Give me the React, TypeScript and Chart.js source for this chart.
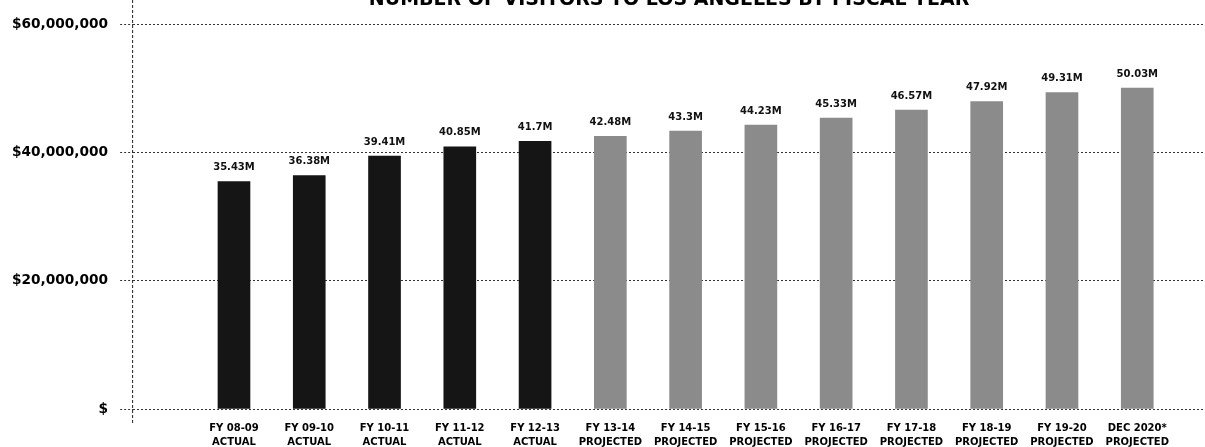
import React, { useEffect, useRef } from "react";
import { Chart, registerables } from "chart.js";

Chart.register(...registerables);

const TITLE = "NUMBER OF VISITORS TO LOS ANGELES BY FISCAL YEAR";

const periods = [
  "FY 08-09",
  "FY 09-10",
  "FY 10-11",
  "FY 11-12",
  "FY 12-13",
  "FY 13-14",
  "FY 14-15",
  "FY 15-16",
  "FY 16-17",
  "FY 17-18",
  "FY 18-19",
  "FY 19-20",
  "DEC 2020*",
];

const statuses = [
  "ACTUAL",
  "ACTUAL",
  "ACTUAL",
  "ACTUAL",
  "ACTUAL",
  "PROJECTED",
  "PROJECTED",
  "PROJECTED",
  "PROJECTED",
  "PROJECTED",
  "PROJECTED",
  "PROJECTED",
  "PROJECTED",
];

const visitorsMillions = [
  35.43, 36.38, 39.41, 40.85, 41.7, 42.48, 43.3, 44.23, 45.33, 46.57, 47.92,
  49.31, 50.03,
];

const yTickValues = [0, 20000000, 40000000, 60000000];

const FONT = "'DejaVu Sans', sans-serif";

export default function App() {
  const canvasRef = useRef<HTMLCanvasElement | null>(null);

  useEffect(() => {
    const canvas = canvasRef.current;
    if (!canvas) return;

    const decorPlugin = {
      id: "decor",
      afterDatasetsDraw(chart: any) {
        const ctx = chart.ctx;
        const meta = chart.getDatasetMeta(0);
        ctx.save();
        ctx.fillStyle = "#111";
        ctx.font = `bold 10px ${FONT}`;
        ctx.textAlign = "center";
        ctx.textBaseline = "middle";
        meta.data.forEach((bar: any, i: number) => {
          ctx.fillText(String(visitorsMillions[i]) + "M", bar.x, bar.y - 14);
        });
        ctx.restore();
      },
      afterDraw(chart: any) {
        const ctx = chart.ctx;
        const area = chart.chartArea;
        ctx.save();
        // title (partly above the top edge, as in the scan)
        ctx.fillStyle = "#000";
        ctx.font = `bold 19px ${FONT}`;
        ctx.textAlign = "center";
        ctx.textBaseline = "alphabetic";
        ctx.fillText(TITLE, (area.left + area.right) / 2, area.top - 19);
        // dashed vertical axis line
        ctx.strokeStyle = "#222";
        ctx.lineWidth = 1;
        ctx.setLineDash([3, 2]);
        ctx.beginPath();
        ctx.moveTo(area.left - 0.5, 0);
        ctx.lineTo(area.left - 0.5, area.bottom + 16);
        ctx.stroke();
        ctx.restore();
      },
    };

    const chart = new Chart(canvas, {
      type: "bar",
      data: {
        datasets: [
          {
            data: visitorsMillions.map((v, i) => ({ x: i, y: v * 1000000 })),
            backgroundColor: statuses.map((s) =>
              s === "ACTUAL" ? "#151515" : "#8b8b8b"
            ),
            barThickness: 32,
          } as any,
        ],
      },
      options: {
        animation: false,
        responsive: false,
        events: [],
        layout: { padding: { top: 24, left: 0, right: 0, bottom: 0 } },
        plugins: {
          legend: { display: false },
          tooltip: { enabled: false },
          title: { display: false },
        },
        scales: {
          x: {
            type: "linear",
            offset: false,
            min: -1.34,
            max: 12.9,
            afterBuildTicks: (scale: any) => {
              scale.ticks = periods.map((_, i) => ({ value: i }));
            },
            afterFit: (scale: any) => {
              scale.paddingLeft = 0;
              scale.paddingRight = 0;
              scale.height = 38;
            },
            grid: { display: false, drawTicks: false, offset: false },
            border: { display: false },
            ticks: {
              autoSkip: false,
              maxRotation: 0,
              minRotation: 0,
              padding: 12,
              color: "#000",
              font: { family: FONT, weight: "bold", size: 10, lineHeight: 1.4 },
              callback: (value: any) => [periods[value], statuses[value]],
            },
          },
          y: {
            min: 0,
            max: 60000000,
            afterBuildTicks: (scale: any) => {
              scale.ticks = yTickValues.map((v) => ({ value: v }));
            },
            grid: {
              color: "#333",
              lineWidth: 1,
              drawTicks: true,
              tickLength: 13,
              tickColor: "#333",
              tickBorderDash: [2, 2],
            },
            border: { display: false, dash: [2, 2] },
            ticks: {
              padding: 12,
              color: "#000",
              font: { family: FONT, weight: "bold", size: 13.7 },
              callback: (value: any) =>
                value === 0 ? "$" : "$" + Number(value).toLocaleString("en-US"),
            },
          },
        },
      } as any,
      plugins: [decorPlugin],
    });

    return () => {
      chart.destroy();
    };
  }, []);

  return (
    <div
      style={{
        position: "absolute",
        left: 0,
        top: 0,
        width: 1205,
        height: 447,
        overflow: "hidden",
        background: "#fff",
      }}
    >
      <canvas
        ref={canvasRef}
        width={1205}
        height={447}
        style={{ width: 1205, height: 447, display: "block" }}
      />
    </div>
  );
}
